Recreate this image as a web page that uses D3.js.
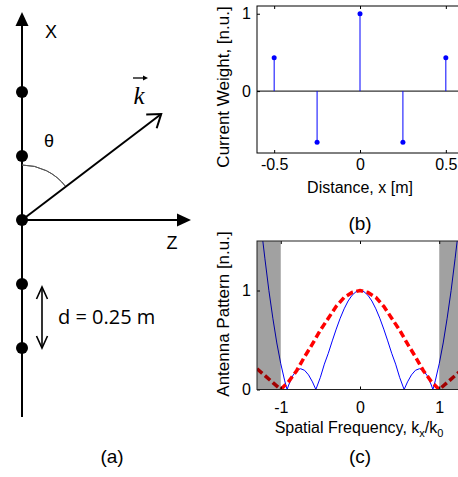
<!DOCTYPE html>
<html>
<head>
<meta charset="utf-8">
<script src="https://cdn.jsdelivr.net/npm/d3@7"></script>
<style>
  body { margin: 0; background: #fff; }
  text { font-family: "Liberation Sans", Arial, sans-serif; fill: #000; }
</style>
</head>
<body>
<div id="chart"></div>
<script>
// element positions along x [m] and their current weights (panel b)
const positions = [-0.5, -0.25, 0, 0.25, 0.5];
const weights = [0.43, -0.66, 1, -0.66, 0.43];

// array pattern (blue, solid)
const kxArray = [-1.3, -1.25, -1.2, -1.15, -1.1, -1.05, -1.0, -0.95, -0.92, -0.9, -0.85, -0.8, -0.75, -0.7, -0.65, -0.6, -0.557, -0.5, -0.45, -0.4, -0.35, -0.3, -0.25, -0.2, -0.15, -0.1, -0.05,
                 0, 0.05, 0.1, 0.15, 0.2, 0.25, 0.3, 0.35, 0.4, 0.45, 0.5, 0.557, 0.6, 0.65, 0.7, 0.75, 0.8, 0.85, 0.9, 0.92, 0.95, 1.0, 1.05, 1.1, 1.15, 1.2, 1.25, 1.3];
const arrayPattern = [2.03, 1.66, 1.32, 1.0, 0.72, 0.47, 0.26, 0.087, 0, 0.045, 0.138, 0.192, 0.21, 0.194, 0.148, 0.077, 0, 0.123, 0.256, 0.366, 0.491, 0.61, 0.72, 0.815, 0.894, 0.952, 0.988,
                      1.0, 0.988, 0.952, 0.894, 0.815, 0.72, 0.61, 0.491, 0.366, 0.256, 0.123, 0, 0.077, 0.148, 0.194, 0.21, 0.192, 0.138, 0.045, 0, 0.087, 0.26, 0.47, 0.72, 1.0, 1.32, 1.66, 2.03];

// element pattern (red, dashed)
const kxElem = [-1.3, -1.2, -1.1, -1.0, -0.9, -0.8, -0.7, -0.6, -0.5, -0.4, -0.3, -0.2, -0.1, 0, 0.1, 0.2, 0.3, 0.4, 0.5, 0.6, 0.7, 0.8, 0.9, 1.0, 1.1, 1.2, 1.3];
const elemPattern = [0.21, 0.14, 0.07, 0, 0.08, 0.19, 0.33, 0.46, 0.6, 0.72, 0.84, 0.93, 0.98, 1.0, 0.98, 0.93, 0.84, 0.72, 0.6, 0.46, 0.33, 0.19, 0.08, 0, 0.07, 0.14, 0.21];

// visible region |kx/k0| <= 1, shaded outside
const visibleBand = [-1, 1];

const ticksBx = [-0.5, 0, 0.5];
const ticksBy = [0, 1];
const ticksCx = [-1, 0, 1];
const ticksCy = [0, 1];

const width = 458, height = 477;
const blue = "#0000ff", red = "#ff0000";

const svg = d3.select("#chart").append("svg")
    .attr("width", width).attr("height", height);

// ---------- panel (a): geometry sketch ----------
const yA = d3.scaleLinear().domain([-0.5, 0.5]).range([348, 92]);
const ax = 22, oy = yA(0);
const thetaDeg = 52.7, kLen = 175, arcR = 55;
const gA = svg.append("g");

gA.append("line").attr("x1", ax).attr("x2", ax).attr("y1", 24).attr("y2", 417)
    .attr("stroke", "#000").attr("stroke-width", 2);
gA.append("path").attr("d", `M${ax},12 L${ax - 6.5},26 L${ax + 6.5},26 Z`).attr("fill", "#000");

gA.append("line").attr("x1", ax).attr("x2", 180).attr("y1", oy).attr("y2", oy)
    .attr("stroke", "#000").attr("stroke-width", 2);
gA.append("path").attr("d", `M191,${oy} L177,${oy - 6.5} L177,${oy + 6.5} Z`).attr("fill", "#000");

gA.selectAll(".elem").data(positions).join("circle")
    .attr("class", "elem")
    .attr("cx", ax).attr("cy", d => yA(d)).attr("r", 6).attr("fill", "#000");

// theta arc
gA.append("path")
    .attr("transform", `translate(${ax},${oy})`)
    .attr("d", d3.arc().innerRadius(arcR).outerRadius(arcR).startAngle(0).endAngle(thetaDeg * Math.PI / 180)())
    .attr("fill", "none").attr("stroke", "#555").attr("stroke-width", 1);

// k vector with open head
const th = thetaDeg * Math.PI / 180;
const tipX = ax + kLen * Math.sin(th), tipY = oy - kLen * Math.cos(th);
gA.append("line").attr("x1", ax).attr("y1", oy).attr("x2", tipX).attr("y2", tipY)
    .attr("stroke", "#000").attr("stroke-width", 2);
const back = Math.atan2(Math.cos(th), -Math.sin(th));
const head = [35, -35].map(a => {
  const ang = back + a * Math.PI / 180;
  return [tipX + 15 * Math.cos(ang), tipY + 15 * Math.sin(ang)];
});
gA.append("path")
    .attr("d", `M${head[0][0]},${head[0][1]} L${tipX},${tipY} L${head[1][0]},${head[1][1]}`)
    .attr("fill", "none").attr("stroke", "#000").attr("stroke-width", 2);

gA.append("text").attr("x", 139).attr("y", 104).attr("text-anchor", "middle")
    .style("font-family", "'Liberation Serif', serif").style("font-style", "italic")
    .attr("font-size", 25).text("k");
gA.append("line").attr("x1", 133).attr("x2", 145).attr("y1", 78).attr("y2", 78)
    .attr("stroke", "#000").attr("stroke-width", 1.3);
gA.append("path").attr("d", "M148,78 L143,75.5 L143,80.5 Z").attr("fill", "#000");

gA.append("text").attr("x", 51).attr("y", 38).attr("text-anchor", "middle").attr("font-size", 18).text("X");
gA.append("text").attr("x", 49).attr("y", 147).attr("text-anchor", "middle").attr("font-size", 18).text("θ");
gA.append("text").attr("x", 172).attr("y", 249).attr("text-anchor", "middle").attr("font-size", 18).text("Z");

// spacing arrow between two elements
const dTop = yA(-0.25) + 3, dBot = yA(-0.5);
gA.append("line").attr("x1", 42).attr("x2", 42).attr("y1", dTop).attr("y2", dBot)
    .attr("stroke", "#000").attr("stroke-width", 1.6);
gA.append("path")
    .attr("d", `M36.5,${dTop + 12} L42,${dTop} L47.5,${dTop + 12} M36.5,${dBot - 12} L42,${dBot} L47.5,${dBot - 12}`)
    .attr("fill", "none").attr("stroke", "#000").attr("stroke-width", 1.6);
gA.append("text").attr("x", 58).attr("y", 324).attr("font-size", 20)
    .style("font-family", "'Open Sans', 'Noto Sans', sans-serif").text("d = 0.25 m");

gA.append("text").attr("x", 112).attr("y", 463).attr("text-anchor", "middle").attr("font-size", 19).text("(a)");

// ---------- helpers for the two plots ----------
function styleAxis(g) {
  g.select(".domain").remove();
  g.selectAll(".tick line").attr("stroke", "#000");
  g.selectAll("text").attr("font-size", 16).style("font-family", "'Liberation Sans', Arial, sans-serif").attr("fill", "#000");
}
function fmt(d) { return String(d); }

// ---------- panel (b): current weights ----------
const xB = d3.scaleLinear().domain([-0.6, 0.6]).range([257, 463]);
const yB = d3.scaleLinear().domain([-0.8, 1.1]).range([153, 6]);
const gB = svg.append("g");

gB.append("line").attr("x1", xB(-0.6)).attr("x2", xB(0.6)).attr("y1", yB(0)).attr("y2", yB(0))
    .attr("stroke", "#000").attr("stroke-width", 1);

const stems = positions.map((p, i) => ({ p: p, w: weights[i] }));
gB.selectAll(".stem").data(stems).join("line")
    .attr("class", "stem")
    .attr("x1", d => xB(d.p)).attr("x2", d => xB(d.p))
    .attr("y1", yB(0)).attr("y2", d => yB(d.w))
    .attr("stroke", blue).attr("stroke-width", 1);
gB.selectAll(".mark").data(stems).join("circle")
    .attr("class", "mark")
    .attr("cx", d => xB(d.p)).attr("cy", d => yB(d.w)).attr("r", 2.5).attr("fill", blue);

gB.append("g").attr("transform", `translate(0,${yB(-0.8)})`)
    .call(d3.axisBottom(xB).tickValues(ticksBx).tickFormat(fmt).tickSizeInner(-3).tickSizeOuter(0).tickPadding(6))
    .call(styleAxis);
gB.append("g").attr("transform", `translate(0,${yB(1.1)})`)
    .call(d3.axisTop(xB).tickValues(ticksBx).tickFormat("").tickSizeInner(-3).tickSizeOuter(0))
    .call(styleAxis);
gB.append("g").attr("transform", `translate(${xB(-0.6)},0)`)
    .call(d3.axisLeft(yB).tickValues(ticksBy).tickFormat(fmt).tickSizeInner(-3).tickSizeOuter(0).tickPadding(6))
    .call(styleAxis);
gB.append("rect").attr("x", xB(-0.6)).attr("y", yB(1.1))
    .attr("width", xB(0.6) - xB(-0.6)).attr("height", yB(-0.8) - yB(1.1))
    .attr("fill", "none").attr("stroke", "#000").attr("stroke-width", 1);

gB.append("text").attr("x", 360).attr("y", 193).attr("text-anchor", "middle").attr("font-size", 16).text("Distance, x [m]");
gB.append("text").attr("transform", "translate(229,87) rotate(-90)").attr("text-anchor", "middle")
    .attr("font-size", 17).text("Current Weight, [n.u.]");
gB.append("text").attr("x", 360).attr("y", 230).attr("text-anchor", "middle").attr("font-size", 19).text("(b)");

// ---------- panel (c): antenna pattern ----------
const xC = d3.scaleLinear().domain([-1.3, 1.3]).range([257, 463]);
const yC = d3.scaleLinear().domain([0, 1.5]).range([389.5, 241]);
const gC = svg.append("g");

svg.append("defs").append("clipPath").attr("id", "clipC").append("rect")
    .attr("x", xC(-1.3)).attr("y", yC(1.5))
    .attr("width", xC(1.3) - xC(-1.3)).attr("height", yC(0) - yC(1.5));

const plotC = gC.append("g").attr("clip-path", "url(#clipC)");

const lineArr = d3.line().x((d, i) => xC(kxArray[i])).y(d => yC(d));
plotC.append("path").datum(arrayPattern).attr("d", lineArr)
    .attr("fill", "none").attr("stroke", blue).attr("stroke-width", 1);

const lineElem = d3.line().x((d, i) => xC(kxElem[i])).y(d => yC(d));
plotC.append("path").datum(elemPattern).attr("d", lineElem)
    .attr("fill", "none").attr("stroke", red).attr("stroke-width", 3.5)
    .attr("stroke-dasharray", "7,3.5");

// shaded invisible region
const bands = [[-1.3, visibleBand[0]], [visibleBand[1], 1.3]];
plotC.selectAll(".band").data(bands).join("rect")
    .attr("class", "band")
    .attr("x", d => xC(d[0])).attr("width", d => xC(d[1]) - xC(d[0]))
    .attr("y", yC(1.5)).attr("height", yC(0) - yC(1.5))
    .attr("fill", "#000").attr("fill-opacity", 0.37);

gC.append("g").attr("transform", `translate(0,${yC(0)})`)
    .call(d3.axisBottom(xC).tickValues(ticksCx).tickFormat(fmt).tickSizeInner(-3).tickSizeOuter(0).tickPadding(12))
    .call(styleAxis);
gC.append("g").attr("transform", `translate(0,${yC(1.5)})`)
    .call(d3.axisTop(xC).tickValues(ticksCx).tickFormat("").tickSizeInner(-3).tickSizeOuter(0))
    .call(styleAxis);
gC.append("g").attr("transform", `translate(${xC(-1.3)},0)`)
    .call(d3.axisLeft(yC).tickValues(ticksCy).tickFormat(fmt).tickSizeInner(-3).tickSizeOuter(0).tickPadding(6))
    .call(styleAxis);
gC.append("rect").attr("x", xC(-1.3)).attr("y", yC(1.5))
    .attr("width", xC(1.3) - xC(-1.3)).attr("height", yC(0) - yC(1.5))
    .attr("fill", "none").attr("stroke", "#222").attr("stroke-width", 1);

const xl = gC.append("text").attr("x", 359).attr("y", 433).attr("text-anchor", "middle").attr("font-size", 16);
xl.append("tspan").text("Spatial Frequency, k");
xl.append("tspan").attr("dy", 4).attr("font-size", 11).text("x");
xl.append("tspan").attr("dy", -4).text("/k");
xl.append("tspan").attr("dy", 4).attr("font-size", 11).text("0");
gC.append("text").attr("transform", "translate(229,314) rotate(-90)").attr("text-anchor", "middle")
    .attr("font-size", 17).text("Antenna Pattern [n.u.]");
gC.append("text").attr("x", 360).attr("y", 463).attr("text-anchor", "middle").attr("font-size", 19).text("(c)");
</script>
</body>
</html>
